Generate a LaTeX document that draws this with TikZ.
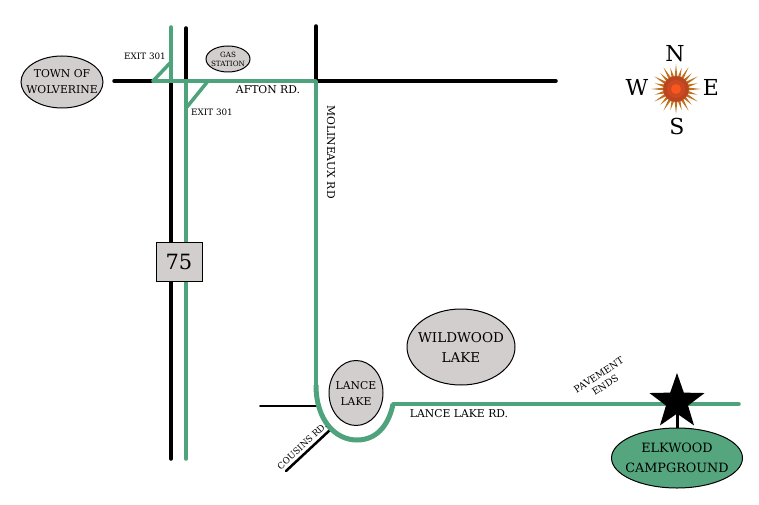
\documentclass[tikz,border=0pt]{standalone}
\usepackage{fontspec}
\setmainfont{DejaVu Serif}
\usetikzlibrary{shapes.geometric,calc}
\definecolor{roadgreen}{HTML}{4FA37C}
\definecolor{campgreen}{HTML}{55A67E}
\definecolor{lakegray}{HTML}{D3CECE}
\definecolor{raycolor}{HTML}{C0701C}
\definecolor{sunout}{HTML}{BC4420}
\definecolor{sunmid}{HTML}{CC4A22}
\definecolor{suncore}{HTML}{F8561E}
\tikzset{
 blackroad/.style={line width=3.5pt,black,line cap=round},
 greenroad/.style={line width=3.5pt,roadgreen,line cap=round,line join=round},
 place/.style={ellipse,draw=black,line width=1pt,fill=lakegray,inner sep=-10pt,align=center,font=\fontsize{10.8}{16}\selectfont},
 roadlabel/.style={font=\fontsize{8.8}{10}\selectfont,inner sep=0pt,align=center},
 biglabel/.style={font=\fontsize{10.8}{12}\selectfont,inner sep=0pt,align=center},
 compass/.style={font=\fontsize{22}{24}\selectfont,inner sep=0pt}
}
\begin{document}
\begin{tikzpicture}[x=1pt,y=-1pt]
\useasboundingbox (0,0) rectangle (759,505);

\coordinate (w0) at (114,81);
\coordinate (w1) at (556,81);
\coordinate (h1top) at (171,27);
\coordinate (h1mid) at (171,81);
\coordinate (h1bot) at (171,459);
\coordinate (h2top) at (186,28);
\coordinate (h2mid) at (186,81);
\coordinate (h2bot) at (186,459);
\coordinate (m0) at (316,26);
\coordinate (m1) at (316,81);
\coordinate (m2) at (316,385);
\coordinate (b0) at (357,440);
\coordinate (r0) at (393,404);
\coordinate (r1) at (739,404);
\coordinate (ramp1) at (153,81);
\coordinate (ramp2) at (171,62);
\coordinate (ramp3) at (208,81);
\coordinate (ramp4) at (187,107);
\coordinate (c0) at (260,406);
\coordinate (c1) at (317,406);
\coordinate (d0) at (286,471);
\coordinate (d1) at (330,430);
\coordinate (sun) at (676,89);

% black roads
\draw[blackroad] (w0)--(w1);
\draw[blackroad] (h1mid)--(h1bot);
\draw[blackroad] (h2top)--(h2mid);
\draw[blackroad] (m0)--(m1);
\draw[blackroad,line width=2pt] (c0)--(c1);
\draw[blackroad,line width=2.5pt] (d0)--(d1);

% green route
\draw[greenroad] (h1top)--(h1mid);
\draw[greenroad] (h2mid)--(h2bot);
\draw[greenroad] (ramp1)--(ramp2);
\draw[greenroad] (ramp3)--(ramp4);
\draw[greenroad] (ramp1)--(m1)--(m2);
\draw[greenroad,line width=5pt,line cap=butt] (m2) .. controls (316,420) and (335,440) .. (b0)
 .. controls (380,440) and (390,420) .. (r0);
\draw[greenroad] (r0)--(r1);

\node[place,minimum width=82pt,minimum height=52pt] (town) at (62,82) {TOWN OF\\WOLVERINE};
\node[place,minimum width=44pt,minimum height=26pt,font=\fontsize{7.2}{9}\selectfont] (gas) at (228,59) {GAS\\STATION};
\node[place,minimum width=108pt,minimum height=76pt,font=\fontsize{13.5}{20}\selectfont] (wildwood) at (461,347) {WILDWOOD\\LAKE};
\node[place,minimum width=54pt,minimum height=65pt] (lance) at (356,393) {LANCE\\LAKE};
\node[draw=black,line width=1pt,fill=lakegray,minimum width=46pt,minimum height=39pt,inner sep=0pt,font=\fontsize{21}{24}\selectfont] (hwy) at (179,262) {75};

\node[star,star points=5,star point ratio=2.5,fill=black,minimum size=58pt,inner sep=0pt] (star) at (677,402) {};
\node[place,fill=campgreen,minimum width=131pt,minimum height=60pt,font=\fontsize{12.8}{20}\selectfont] (camp) at (677,458) {ELKWOOD\\CAMPGROUND};
\draw[blackroad,line width=3pt,line cap=butt] (star.center)--(camp.north);

\node[roadlabel] (exita) at (145,56) {EXIT 301};
\node[roadlabel] (exitb) at (212,112) {EXIT 301};
\node[biglabel] (afton) at (268,90) {AFTON RD.};
\node[biglabel,rotate=-90] (moli) at (331,152) {MOLINEAUX RD};
\node[biglabel] (lancerd) at (459,414) {LANCE LAKE RD.};
\node[roadlabel,rotate=43] (cous) at (302,446) {COUSINS RD.};
\node[roadlabel,rotate=33,font=\fontsize{9.5}{12}\selectfont] (pave) at (602,380) {PAVEMENT\\ENDS};

% compass
\foreach \a in {0,30,...,330}
 \fill[raycolor] ($(sun)+(\a-8:11pt)$) -- ($(sun)+(\a:25pt)$) -- ($(sun)+(\a+8:11pt)$) -- cycle;
\foreach \a in {15,45,...,345}
 \fill[raycolor] ($(sun)+(\a-8:11pt)$) -- ($(sun)+(\a:22pt)$) -- ($(sun)+(\a+8:11pt)$) -- cycle;
\fill[sunout] (sun) circle (13pt);
\fill[sunmid] (sun) circle (9pt);
\fill[suncore] (sun) circle (5pt);
\node[compass] (north) at (675,54) {N};
\node[compass] (west) at (637,87) {W};
\node[compass] (east) at (711,87) {E};
\node[compass] (south) at (677,126) {S};
\end{tikzpicture}
\end{document}
